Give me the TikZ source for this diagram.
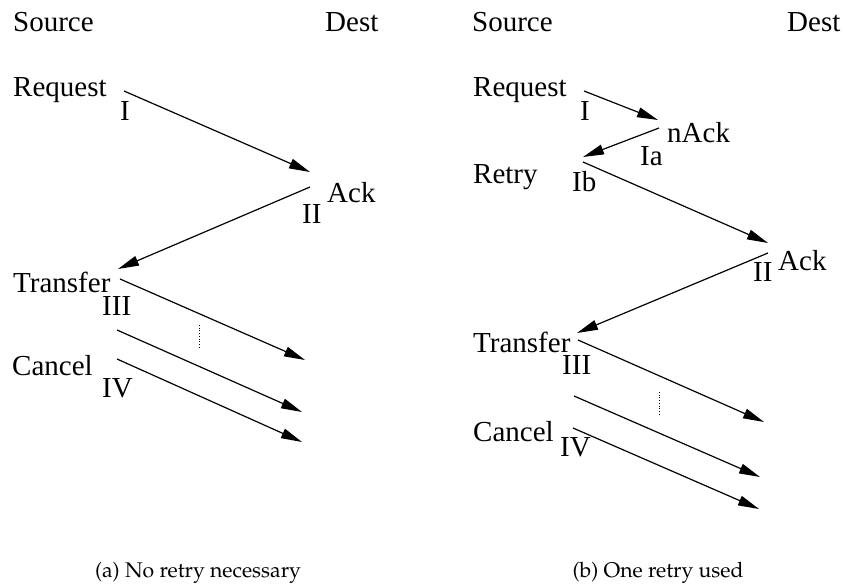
\documentclass[tikz,border=0pt]{standalone}
\usepackage[T1,TU]{fontenc}
\usepackage{fontspec}
\setmainfont{Liberation Serif}
\usetikzlibrary{arrows.meta}
\begin{document}
\begin{tikzpicture}[x=1pt,y=-1pt,
  lbl/.style={anchor=base west,inner sep=0pt,font=\fontsize{29}{34}\selectfont},
  captext/.style={anchor=base,inner sep=0pt,font=\usefont{T1}{ppl}{m}{n}\fontsize{21.2}{25}\selectfont},
  msg/.style={line width=1.2pt,-{Triangle[length=21pt,width=10pt]}},
  gap/.style={line width=0.7pt,dotted}]
\useasboundingbox (0,0) rectangle (843,585);
% ---------- (a) ----------
\node[lbl] (sa) at (13,32) {Source};
\node[lbl] (da) at (325,32) {Dest};
\node[lbl] (reqa) at (13,97) {Request};
\node[lbl] (ia) at (120,121) {I};
\node[lbl] (acka) at (327,203) {Ack};
\node[lbl] (iia) at (302,224) {II};
\node[lbl] (tra) at (13,292) {Transfer};
\node[lbl] (iiia) at (102,315) {III};
\node[lbl] (cana) at (12,375) {Cancel};
\node[lbl] (iva) at (102,397) {IV};
\coordinate (a1s) at (124,91);  \coordinate (a1e) at (310,172);
\coordinate (a2s) at (310,187); \coordinate (a2e) at (118,269);
\coordinate (a3s) at (120,279); \coordinate (a3e) at (305,360);
\coordinate (a4s) at (117,330); \coordinate (a4e) at (302,412);
\coordinate (a5s) at (117,359); \coordinate (a5e) at (302,442);
\coordinate (ga1) at (199,325); \coordinate (ga2) at (199,348);
\draw[msg] (a1s) -- (a1e);
\draw[msg] (a2s) -- (a2e);
\draw[msg] (a3s) -- (a3e);
\draw[msg] (a4s) -- (a4e);
\draw[msg] (a5s) -- (a5e);
\draw[gap] (ga1) -- (ga2);
\node[captext] (capa) at (198,577) {(a) No retry necessary};
% ---------- (b) ----------
\node[lbl] (sb) at (472,32) {Source};
\node[lbl] (db) at (787,32) {Dest};
\node[lbl] (reqb) at (473,97) {Request};
\node[lbl] (ib) at (580,121) {I};
\node[lbl] (nackb) at (667,143) {nAck};
\node[lbl] (iab) at (640,166) {Ia};
\node[lbl] (retb) at (473,184) {Retry};
\node[lbl] (ibb) at (572,192) {Ib};
\node[lbl] (ackb) at (778,271) {Ack};
\node[lbl] (iib) at (753,282) {II};
\node[lbl] (trb) at (473,352) {Transfer};
\node[lbl] (iiib) at (562,374) {III};
\node[lbl] (canb) at (473,441) {Cancel};
\node[lbl] (ivb) at (560,456) {IV};
\coordinate (b1s) at (584,91);  \coordinate (b1e) at (658,120);
\coordinate (b2s) at (659,128); \coordinate (b2e) at (583,157);
\coordinate (b3s) at (583,162); \coordinate (b3e) at (768,243);
\coordinate (b4s) at (768,253); \coordinate (b4e) at (577,333);
\coordinate (b5s) at (578,340); \coordinate (b5e) at (764,422);
\coordinate (b6s) at (574,396); \coordinate (b6e) at (760,477);
\coordinate (b7s) at (573,428); \coordinate (b7e) at (759,509);
\coordinate (gb1) at (659,392); \coordinate (gb2) at (659,415);
\draw[msg] (b1s) -- (b1e);
\draw[msg] (b2s) -- (b2e);
\draw[msg] (b3s) -- (b3e);
\draw[msg] (b4s) -- (b4e);
\draw[msg] (b5s) -- (b5e);
\draw[msg] (b6s) -- (b6e);
\draw[msg] (b7s) -- (b7e);
\draw[gap] (gb1) -- (gb2);
\node[captext] (capb) at (658,577) {(b) One retry used};
\end{tikzpicture}
\end{document}
